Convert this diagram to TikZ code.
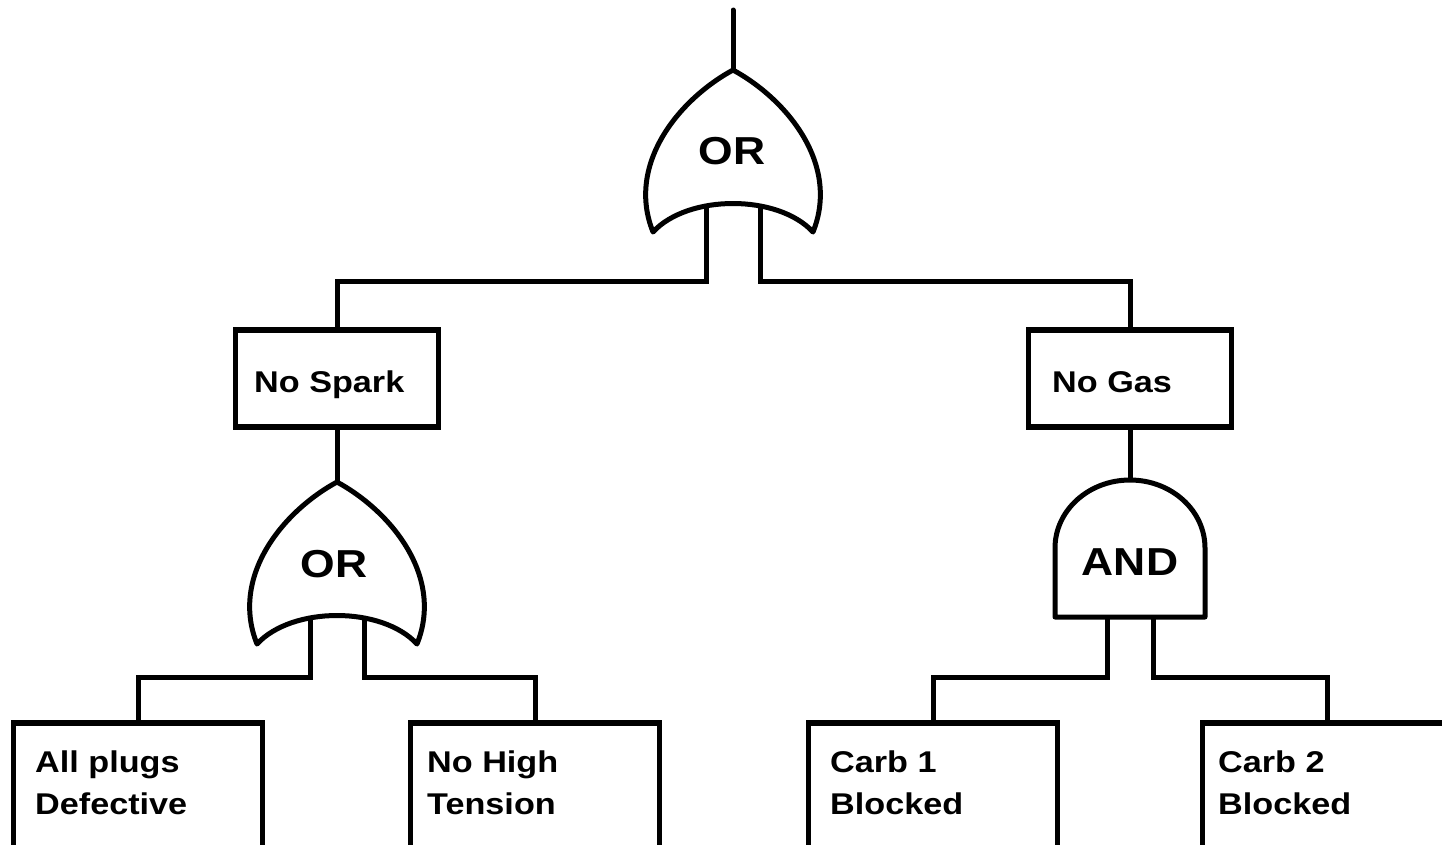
\documentclass[tikz,border=0pt]{standalone}
\usepackage{fontspec}
\newfontfamily\lblfont{Liberation Sans}[FakeStretch=1.14]
\begin{document}
\begin{tikzpicture}[x=1pt,y=-1pt,
  wire/.style={line width=5pt, line join=miter},
  gate/.style={line width=5pt, line join=round, fill=white},
  event/.style={draw, line width=5.5pt, rectangle, inner sep=0pt, outer sep=0pt,
                minimum width=#1},
  event/.default=203pt,
  evlabel/.style={inner sep=0pt, anchor=base west, align=left,
                  font=\lblfont\bfseries\fontsize{30}{42}\selectfont},
  gatelabel/.style={inner sep=0pt, anchor=base,
                    font=\lblfont\bfseries\fontsize{39}{39}\selectfont},
  orgate/.pic={
    \draw[gate] (0,0) .. controls (-55,30) and (-107,95) .. (-80,162)
       .. controls (-45,124) and (45,124) .. (80,162)
       .. controls (107,95) and (55,30) .. (0,0) -- cycle;
    \coordinate (-top) at (0,0);
    \coordinate (-l) at (-27,137);
    \coordinate (-r) at (27,137);
  },
  andgate/.pic={
    \draw[gate] (-75,137) -- (-75,68)
       .. controls (-75,30.4) and (-41.4,0) .. (0,0)
       .. controls (41.4,0) and (75,30.4) .. (75,68) -- (75,137) -- cycle;
    \coordinate (-top) at (0,0);
    \coordinate (-l) at (-23,137);
    \coordinate (-r) at (23,137);
  }]

\clip (0,0) rectangle (1442,844);
\fill[white] (0,0) rectangle (1442,844);

% bus levels of the horizontal connectors
\coordinate (busTop) at (0,281);
\coordinate (busLow) at (0,677);

% top event line
\coordinate (root) at (733,10);

% intermediate events
\node[event, minimum height=97pt, anchor=north] (spark) at (337,330) {};
\node[event, minimum height=97pt, anchor=north] (gas) at (1130,330) {};
\node[evlabel] (sparkTxt) at (254,392) {No Spark};
\node[evlabel] (gasTxt) at (1052,392) {No Gas};

% basic events (cut by the lower edge)
\node[event=249pt, minimum height=160pt, anchor=north] (plugs) at (138,723) {};
\node[event=249pt, minimum height=160pt, anchor=north] (tension) at (535,723) {};
\node[event=249pt, minimum height=160pt, anchor=north] (carbA) at (933,723) {};
\node[event=249pt, minimum height=160pt, anchor=north] (carbB) at (1327,723) {};
\node[evlabel] (plugsTxt) at (35,814) {All plugs\\Defective};
\node[evlabel] (tensionTxt) at (427,814) {No High\\Tension};
\node[evlabel] (carbATxt) at (830,814) {Carb 1\\Blocked};
\node[evlabel] (carbBTxt) at (1218,814) {Carb 2\\Blocked};

% connectors
\draw[wire, line cap=round] (root) -- (733,70);
\draw[wire] (spark.south) -- (337,482);
\draw[wire] (gas.south) -- (1130,480);

% gates
\pic (gTop) at (733,70) {orgate};
\pic (gSpark) at (337,482) {orgate};
\pic (gGas) at (1130,480) {andgate};
\node[gatelabel] (gTopTxt) at (732,164) {OR};
\node[gatelabel] (gSparkTxt) at (334,577) {OR};
\node[gatelabel] (gGasTxt) at (1130,575) {AND};

% gate inputs
\draw[wire] (gTop-l) -- (gTop-l |- busTop) -| (spark.north);
\draw[wire] (gTop-r) -- (gTop-r |- busTop) -| (gas.north);
\draw[wire] (gSpark-l) -- (gSpark-l |- busLow) -| (plugs.north);
\draw[wire] (gSpark-r) -- (gSpark-r |- busLow) -| (tension.north);
\draw[wire] (gGas-l) -- (gGas-l |- busLow) -| (carbA.north);
\draw[wire] (gGas-r) -- (gGas-r |- busLow) -| (carbB.north);
\end{tikzpicture}
\end{document}
